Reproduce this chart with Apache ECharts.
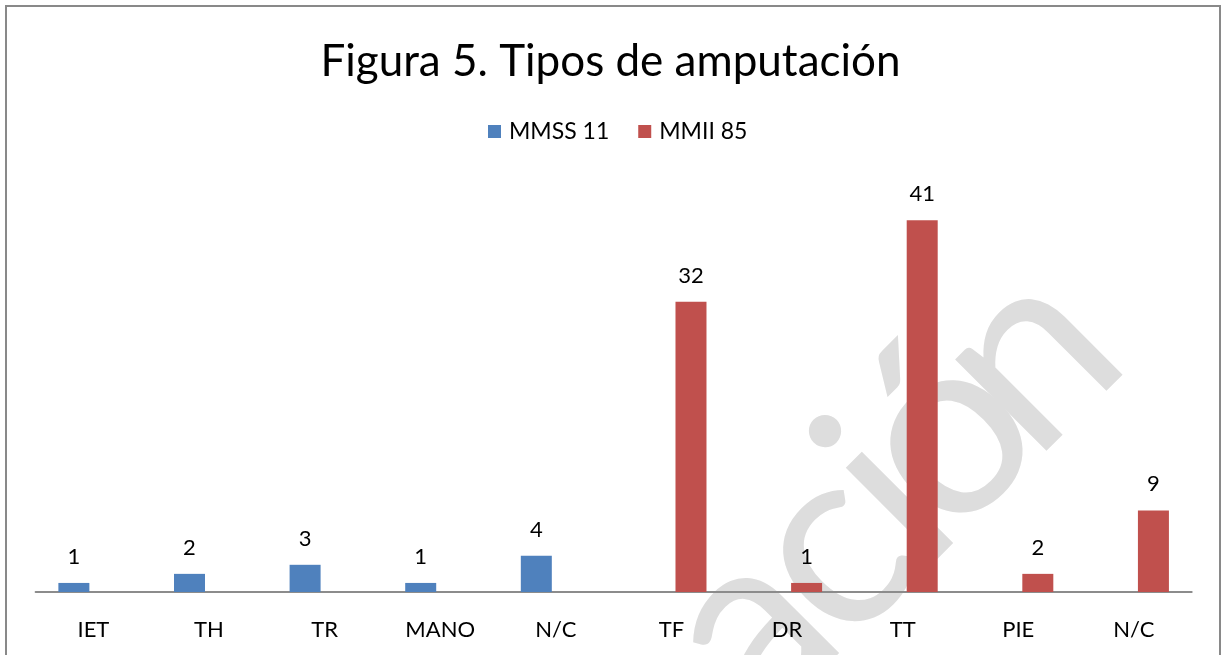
<!DOCTYPE html>
<html><head><meta charset="utf-8">
<script src="https://cdn.jsdelivr.net/npm/echarts@6/dist/echarts.min.js"></script>
<style>html,body{margin:0;padding:0;background:#fff}#c{width:1221px;height:655px}</style>
</head><body><div id="c"></div>
<script>
const categories = ['IET', 'TH', 'TR', 'MANO', 'N/C', 'TF', 'DR', 'TT', 'PIE', 'N/C'];
const mmssValues = [1, 2, 3, 1, 4, null, null, null, null, null];
const mmiiValues = [null, null, null, null, null, 32, 1, 41, 2, 9];
const seriesNames = ['MMSS 11', 'MMII 85'];
const titleText = 'Figura 5. Tipos de amputación';
const watermarkLetters = ['a', 'c', 'i', 'ó', 'n'];

const FONT = 'Lato';
const chart = echarts.init(document.getElementById('c'), null, {renderer: 'canvas'});

// watermark letter placement (decoration, along a 45° baseline)
const wmMid = [[748, 628], [829, 550], [887, 493], [944, 434], [1026, 355]];
const wmGraphics = watermarkLetters.map((ch, i) => ({
  type: 'text', x: wmMid[i][0], y: wmMid[i][1], rotation: Math.PI / 4, z: -10, silent: true,
  style: {text: ch, fill: '#dddddd', font: '255px Lato', textAlign: 'center', textVerticalAlign: 'middle'}
}));

const labelCfg = {show: true, position: 'top', distance: 15, color: '#000', fontSize: 22, fontFamily: FONT};

chart.setOption({
  backgroundColor: '#ffffff',
  animation: false,
  title: {
    text: titleText, left: 'center', top: 35,
    textStyle: {fontFamily: FONT, fontSize: 44, fontWeight: 'normal', color: '#000'}
  },
  legend: {
    top: 115, left: 483, itemWidth: 13, itemHeight: 13, itemGap: 29, icon: 'rect',
    textStyle: {fontFamily: FONT, fontSize: 23, color: '#000', padding: [0, 0, 0, 3]},
    data: seriesNames
  },
  grid: {left: 35.6, right: 29.3, top: 184, bottom: 63},
  xAxis: {
    type: 'category', data: categories,
    axisLine: {lineStyle: {color: '#8c8c8c', width: 2}},
    axisTick: {show: false},
    axisLabel: {color: '#000', fontSize: 22, fontFamily: FONT, margin: 27, interval: 0}
  },
  yAxis: {type: 'value', min: 0, max: 45, show: false, splitLine: {show: false}},
  series: [
    {name: seriesNames[0], type: 'bar', data: mmssValues, barWidth: 31, barGap: '26%',
     itemStyle: {color: '#4F81BD'}, label: labelCfg},
    {name: seriesNames[1], type: 'bar', data: mmiiValues, barWidth: 31, barGap: '26%',
     itemStyle: {color: '#C0504D'}, label: labelCfg}
  ],
  graphic: [
    ...wmGraphics,
    {type: 'rect', silent: true, z: 100, shape: {x: 6, y: 6, width: 1214, height: 700},
     style: {fill: 'none', stroke: '#898989', lineWidth: 2}}
  ]
});
</script></body></html>
